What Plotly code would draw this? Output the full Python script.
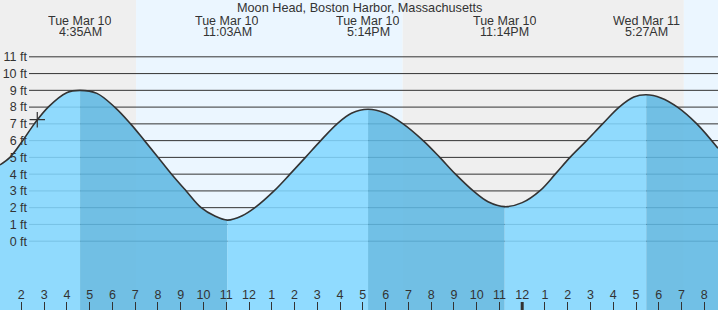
import plotly.graph_objects as go

# ---------------- data ----------------
chart_title = "Moon Head, Boston Harbor, Massachusetts"

# hours since midnight Tue Mar 10, and tide height in ft
hours = [1.063, 1.50, 2.06, 2.57, 3.18, 3.99, 4.58, 5.32, 6.10, 6.80, 7.41, 8.01,
         8.60, 9.24, 9.90, 10.50, 11.05, 11.70, 12.26, 13.10, 13.80, 14.48,
         15.15, 15.87, 16.50, 17.23, 18.00, 18.77, 19.65, 20.38, 21.07, 21.85,
         22.50, 23.23, 24.00, 24.81, 25.45, 26.10, 26.83, 27.53, 28.26, 28.90,
         29.45, 30.10, 30.82, 31.67, 32.60]
heights = [4.55, 5.00, 6.00, 7.00, 8.00, 8.86, 9.00, 8.82, 8.00, 7.00, 6.00, 5.00,
           4.00, 3.00, 2.00, 1.50, 1.26, 1.52, 2.00, 3.00, 4.00, 5.00,
           6.00, 7.00, 7.63, 7.87, 7.63, 7.00, 6.00, 5.00, 4.00, 3.00,
           2.35, 2.06, 2.30, 3.05, 4.00, 5.00, 6.00, 7.00, 8.00, 8.60,
           8.74, 8.55, 8.00, 7.00, 5.54]

event_hours = [4.58, 11.05, 17.23, 23.23, 29.45]
event_dates = ["Tue Mar 10", "Tue Mar 10", "Tue Mar 10", "Tue Mar 10", "Wed Mar 11"]
event_times = ["4:35AM", "11:03AM", "5:14PM", "11:14PM", "5:27AM"]

sun_changes = [7.04, 18.75, 31.10]          # sunrise, sunset, sunrise
now_hour, now_height = 2.70, 7.25             # current-time marker

tick_hours = list(range(2, 33))
tick_labels = ["2", "3", "4", "5", "6", "7", "8", "9", "10", "11", "12",
               "1", "2", "3", "4", "5", "6", "7", "8", "9", "10", "11", "12",
               "1", "2", "3", "4", "5", "6", "7", "8"]
midnight_hour = 24

ft_values = [0, 1, 2, 3, 4, 5, 6, 7, 8, 9, 10, 11]
ft_labels = ["0 ft", "1 ft", "2 ft", "3 ft", "4 ft", "5 ft", "6 ft", "7 ft",
             "8 ft", "9 ft", "10 ft", "11 ft"]

# ---------------- style ----------------
W, H = 718, 310
x_range = [1.063, 32.60]
y_range = [-4.105, 14.39]
FONT = "Liberation Sans, Arial, sans-serif"
TXT = "#333333"
NIGHT = "#efefef"
DAY = "#ebf6ff"
FLOOD = "rgba(130,215,255,0.87)"
EBB = "rgba(94,184,226,0.87)"

fig = go.Figure()

# water, split into flood (light) and ebb (dark) segments at the extremes
bounds = [hours[0]] + event_hours + [hours[-1]]
for i in range(len(bounds) - 1):
    a, b = bounds[i], bounds[i + 1]
    sx = [h for h in hours if a <= h <= b]
    sy = [v for h, v in zip(hours, heights) if a <= h <= b]
    fig.add_trace(go.Scatter(x=[a, b], y=[y_range[0] - 2] * 2, mode="lines",
                             line=dict(width=0), hoverinfo="skip", showlegend=False))
    fig.add_trace(go.Scatter(x=sx, y=sy, mode="lines", fill="tonexty",
                             fillcolor=FLOOD if i % 2 == 0 else EBB,
                             line=dict(width=0, shape="spline"),
                             hoverinfo="skip", showlegend=False))

# tide outline
fig.add_trace(go.Scatter(x=hours, y=heights, mode="lines",
                         line=dict(color=TXT, width=1.6, shape="spline"),
                         hoverinfo="skip", showlegend=False))
# current time marker
fig.add_trace(go.Scatter(x=[now_hour], y=[now_height], mode="markers",
                         marker=dict(symbol="cross-thin", size=11,
                                     line=dict(color=TXT, width=1.2)),
                         hoverinfo="skip", showlegend=False))

shapes = []
# day / night background bands
band_edges = [x_range[0] - 1] + sun_changes + [x_range[1] + 1]
for i in range(len(band_edges) - 1):
    shapes.append(dict(type="rect", layer="below", xref="x", yref="paper",
                       x0=band_edges[i], x1=band_edges[i + 1], y0=0, y1=1,
                       fillcolor=NIGHT if i % 2 == 0 else DAY, line=dict(width=0)))
# horizontal grid lines
for v in ft_values:
    shapes.append(dict(type="line", layer="below", xref="paper", yref="y",
                       x0=29 / W, x1=1, y0=v, y1=v,
                       line=dict(color=TXT, width=1)))
# heavier midnight tick
shapes.append(dict(type="line", xref="x", yref="paper", x0=midnight_hour,
                   x1=midnight_hour, y0=0, y1=8 / H, line=dict(color=TXT, width=3)))

annotations = [dict(text=chart_title, xref="paper", yref="paper", x=0.5,
                    y=1 - 8.3 / H, xanchor="center", yanchor="middle",
                    showarrow=False, font=dict(family=FONT, size=12.7, color=TXT))]
for h, d, t in zip(event_hours, event_dates, event_times):
    annotations.append(dict(text=d, xref="x", yref="paper", x=h, y=1 - 20.3 / H,
                            xanchor="center", yanchor="middle", showarrow=False,
                            height=11, borderpad=0,
                            font=dict(family=FONT, size=12.5, color=TXT)))
    annotations.append(dict(text=t, xref="x", yref="paper", x=h, y=1 - 31.8 / H,
                            xanchor="center", yanchor="middle", showarrow=False,
                            height=11, borderpad=0,
                            font=dict(family=FONT, size=12.5, color=TXT)))

fig.update_layout(
    width=W, height=H, margin=dict(l=0, r=0, t=0, b=0),
    paper_bgcolor="white", plot_bgcolor="white",
    shapes=shapes, annotations=annotations, showlegend=False,
    xaxis=dict(range=x_range, showgrid=False, zeroline=False, showline=False,
               tickmode="array", tickvals=tick_hours, ticktext=tick_labels,
               ticks="inside", ticklen=8, tickwidth=1, tickcolor=TXT,
               ticklabelposition="inside", automargin=False,
               tickfont=dict(family=FONT, size=12.5, color=TXT)),
    yaxis=dict(range=y_range, showgrid=False, zeroline=False, showline=False,
               anchor="free", position=27 / W, side="left",
               tickmode="array", tickvals=ft_values, ticktext=ft_labels,
               ticks="", automargin=False,
               tickfont=dict(family=FONT, size=12.5, color=TXT)),
)

fig.write_html("out.html")
